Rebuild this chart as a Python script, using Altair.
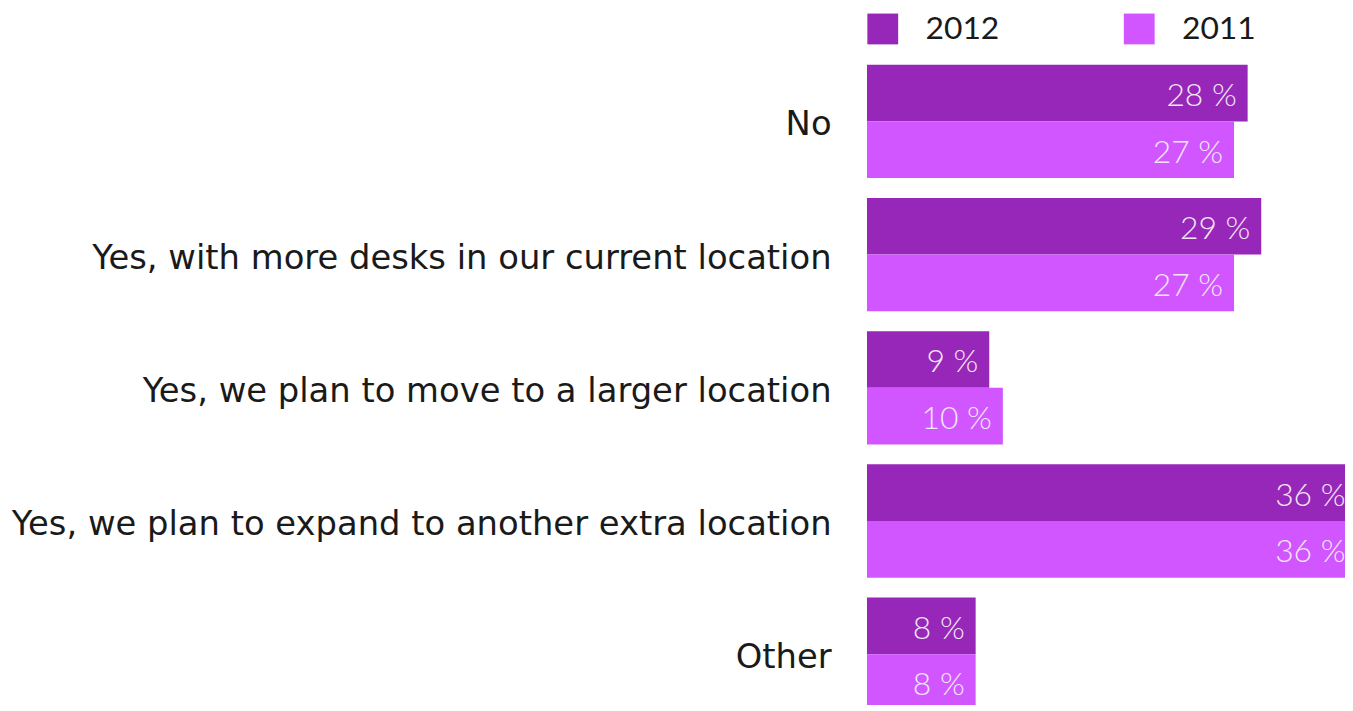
import altair as alt
import pandas as pd

categories = [
    "No",
    "Yes, with more desks in our current location",
    "Yes, we plan to move to a larger location",
    "Yes, we plan to expand to another extra location",
    "Other",
]
values_2012 = [28, 29, 9, 36, 8]
values_2011 = [27, 27, 10, 36, 8]
years = ["2012", "2011"]
colors = ["#9727B8", "#D156FF"]

rows = []
for c, v12, v11 in zip(categories, values_2012, values_2011):
    rows.append({"Category": c, "Year": "2012", "Value": v12, "Label": f"{v12} %"})
    rows.append({"Category": c, "Year": "2011", "Value": v11, "Label": f"{v11} %"})
df = pd.DataFrame(rows)

y_enc = alt.Y(
    "Category:N",
    sort=categories,
    scale=alt.Scale(range=[8, 658], paddingInner=20 / 134, paddingOuter=0),
    axis=alt.Axis(
        title=None,
        domain=False,
        ticks=False,
        labelPadding=36,
        labelFontSize=34,
        labelFont="DejaVu Sans",
        labelColor="#1a1a1a",
        labelLimit=0,
        labelAlign="right",
        labelOffset=4,
    ),
)
yoff = alt.YOffset("Year:N", sort=years, scale=alt.Scale(paddingInner=0, paddingOuter=0))
x_enc = alt.X("Value:Q", scale=alt.Scale(domain=[0, 35.16], nice=False, zero=True), axis=None)

bars = alt.Chart(df).mark_bar(clip=True).encode(
    y=y_enc,
    yOffset=yoff,
    x=x_enc,
    color=alt.Color(
        "Year:N",
        sort=years,
        scale=alt.Scale(domain=years, range=colors),
        legend=alt.Legend(
            title=None,
            orient="none",
            legendX=0,
            legendY=-44,
            direction="horizontal",
            columns=2,
            symbolType="square",
            symbolSize=961,
            symbolStrokeWidth=0,
            labelFontSize=32,
            labelFont="Lato",
            labelColor="#1a1a1a",
            labelOffset=27,
            columnPadding=124,
            padding=0,
        ),
    ),
)

text = alt.Chart(df).mark_text(
    align="right",
    baseline="middle",
    dx=-11,
    dy=3,
    font="Lato",
    fontSize=32,
    fontWeight=300,
    color="#F3E6F6",
).encode(y=alt.Y("Category:N", sort=categories), yOffset=yoff, x=x_enc, text="Label:N")

chart = (
    alt.layer(bars, text)
    .properties(
        width=481,
        height=652,
        autosize=alt.AutoSizeParams(type="none"),
        padding={"left": 864, "top": 47, "right": 0, "bottom": 0},
    )
    .configure_view(stroke=None)
)

chart.save("out.html", embed_options={"renderer": "svg", "actions": False})
